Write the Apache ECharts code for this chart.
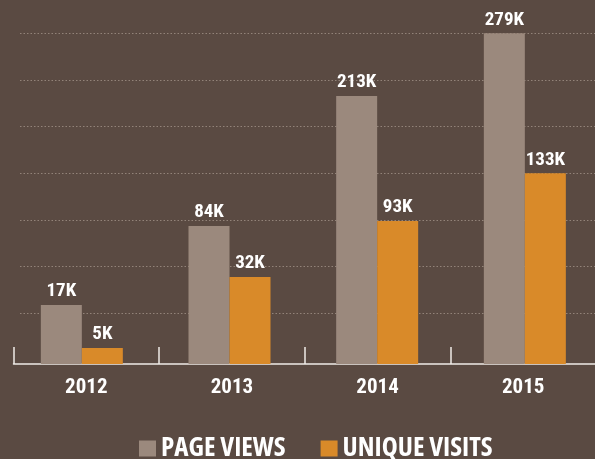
<!DOCTYPE html>
<html>
<head>
<meta charset="utf-8">
<script src="https://cdn.jsdelivr.net/npm/echarts@6/dist/echarts.min.js"></script>
<style>
  html, body { margin: 0; padding: 0; background: #5a4a42; }
  #chart { width: 595px; height: 459px; }
</style>
</head>
<body>
<div id="chart"></div>
<script>
// Categories
const years = ['2012', '2013', '2014', '2015'];
// Series values (thousands) as labelled
const pageViews = [17, 84, 213, 279];
const uniqueVisits = [5, 32, 93, 133];
// Bar heights as drawn in the infographic (not to scale), in gridline steps
const pageViewsHeight = [1.264, 2.957, 5.743, 7.086];
const uniqueVisitsHeight = [0.343, 1.864, 3.064, 4.086];
const seriesNames = ['PAGE VIEWS', 'UNIQUE VISITS'];

const NUM_FONT = "Roboto, 'DejaVu Sans Condensed', sans-serif";
const LEG_FONT = "'Open Sans', 'DejaVu Sans Condensed', sans-serif";
const BG = '#5a4a42';
const GRAY = '#9b897d';
const ORANGE = '#d98a29';
const AXIS = '#f0ece8';

const chart = echarts.init(document.getElementById('chart'), null, { renderer: 'canvas' });
const labelValues = [pageViews, uniqueVisits];

const barLabel = {
  show: true,
  position: 'top',
  distance: 4,
  color: '#ffffff',
  fontFamily: NUM_FONT,
  fontWeight: 'bold condensed',
  fontSize: 19,
  formatter: p => labelValues[p.seriesIndex][p.dataIndex] + 'K'
};

chart.setOption({
  animation: false,
  backgroundColor: BG,
  grid: [
    { left: 8, width: 590.67, top: 33.33, bottom: 95, outerBoundsMode: 'none', containLabel: false },
    { left: 13.5, width: 582.5, top: 33.33, bottom: 95, outerBoundsMode: 'none', containLabel: false },
    { left: 20, right: 0, top: 33.33, bottom: 145.67, outerBoundsMode: 'none', containLabel: false }
  ],
  legend: {
    data: seriesNames,
    left: 139,
    top: 435,
    padding: 0,
    itemWidth: 17,
    itemHeight: 16,
    itemGap: 35,
    icon: 'rect',
    selectedMode: false,
    textStyle: { color: '#ffffff', fontFamily: LEG_FONT, fontWeight: 'bold extra-condensed', fontSize: 27 }
  },
  xAxis: [
    { gridIndex: 0, type: 'category', data: years, show: false },
    {
      gridIndex: 1, type: 'category', data: years,
      axisLine: { onZero: false, lineStyle: { color: AXIS, width: 1.5 } },
      axisTick: { show: true, inside: true, length: 17, lineStyle: { color: AXIS, width: 1.5 } },
      axisLabel: { color: '#ffffff', fontFamily: NUM_FONT, fontWeight: 'bold condensed', fontSize: 21, margin: 13 },
      splitLine: { show: false }
    },
    { gridIndex: 2, type: 'value', min: 0, max: 1, show: false }
  ],
  yAxis: [
    { gridIndex: 0, type: 'value', min: 0, max: 7.086, show: false },
    { gridIndex: 1, type: 'value', min: 0, max: 1, show: false },
    {
      gridIndex: 2, type: 'value', min: 0, max: 6, interval: 1,
      axisLine: { show: false }, axisTick: { show: false }, axisLabel: { show: false },
      splitLine: { show: true, lineStyle: { color: '#928379', width: 1, type: [1.5, 2] } }
    }
  ],
  series: [
    {
      name: seriesNames[0], type: 'bar', xAxisIndex: 0, yAxisIndex: 0,
      data: pageViewsHeight, barWidth: 41, barGap: '0%',
      itemStyle: { color: GRAY }, label: barLabel, z: 3
    },
    {
      name: seriesNames[1], type: 'bar', xAxisIndex: 0, yAxisIndex: 0,
      data: uniqueVisitsHeight, barWidth: 41, barGap: '0%',
      itemStyle: { color: ORANGE }, label: barLabel, z: 3
    }
  ]
});
</script>
</body>
</html>
